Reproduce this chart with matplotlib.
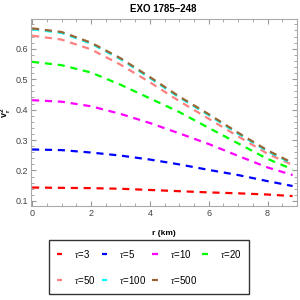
import numpy as np
import matplotlib.pyplot as plt
from matplotlib.ticker import MultipleLocator

plt.rcParams['font.family'] = ['Liberation Sans', 'DejaVu Sans']
plt.rcParams['mathtext.fontset'] = 'custom'
plt.rcParams['mathtext.it'] = 'Liberation Serif:italic'
plt.rcParams['mathtext.bf'] = 'Liberation Sans:bold'
plt.rcParams['mathtext.rm'] = 'Liberation Sans'

# radius grid (km) and v_r^2
r = [0, 1, 2, 3, 4, 5, 6, 7, 8, 8.85]
tau3 = [0.144, 0.143, 0.142, 0.140, 0.136, 0.132, 0.128, 0.125, 0.121, 0.116]
tau5 = [0.269, 0.267, 0.259, 0.249, 0.236, 0.220, 0.202, 0.185, 0.165, 0.149]
tau10 = [0.431, 0.426, 0.411, 0.386, 0.356, 0.322, 0.287, 0.248, 0.210, 0.185]
tau20 = [0.557, 0.546, 0.522, 0.482, 0.437, 0.392, 0.340, 0.289, 0.238, 0.204]
tau50 = [0.643, 0.630, 0.598, 0.548, 0.490, 0.428, 0.370, 0.312, 0.255, 0.218]
tau100 = [0.664, 0.652, 0.617, 0.566, 0.504, 0.440, 0.382, 0.321, 0.263, 0.222]
tau500 = [0.667, 0.655, 0.620, 0.569, 0.507, 0.443, 0.385, 0.324, 0.266, 0.225]

labels = ['3', '5', '10', '20', '50', '100', '500']
colors = ['#ff0000', '#0000ff', '#ff00ff', '#00ff00', '#ff8080', '#00ffff', '#996633']
series = [tau3, tau5, tau10, tau20, tau50, tau100, tau500]

fig = plt.figure(figsize=(3, 3), dpi=100)
ax = fig.add_axes([0.103, 0.313, 0.887, 0.624])

lines = []
for y, c, lab in zip(series, colors, labels):
    ln, = ax.plot(r, y, color=c, lw=1.6, dashes=(3.2, 2.6), label=r'$\mathit{\tau}$=' + lab)
    lines.append(ln)

ax.set_xlim(-0.04, 9.0)
ax.set_ylim(0.083, 0.698)
ax.xaxis.set_major_locator(MultipleLocator(2))
ax.xaxis.set_minor_locator(MultipleLocator(0.5))
ax.yaxis.set_major_locator(MultipleLocator(0.1))
ax.yaxis.set_minor_locator(MultipleLocator(0.02))
ax.tick_params(which='both', direction='in', top=True, right=True,
               color='#999999', labelsize=6.5, labelcolor='#444444', pad=2)
ax.tick_params(which='major', length=3.5)
ax.tick_params(which='minor', length=2)
for s in ax.spines.values():
    s.set_color('#aaaaaa')

fig.text(0.545, 0.985, 'EXO 1785\u2013248', fontsize=7, fontweight='bold',
         ha='center', va='top')
ax.set_xlabel('r (km)', fontsize=6, fontweight='bold', labelpad=9)
ax.set_ylabel(r'$\mathbf{v_r^{2}}$', fontsize=6.5, rotation=90)
ax.yaxis.set_label_coords(-0.068, 0.5)

# row-wise order for a 4-column legend
order = [0, 4, 1, 5, 2, 6, 3]
leg = fig.legend([lines[i] for i in order], [lines[i].get_label() for i in order],
                 loc='lower center', bbox_to_anchor=(0.497, 0.005), ncol=4,
                 fontsize=7, frameon=True, fancybox=False, handlelength=0.6,
                 columnspacing=0.6, handletextpad=1.2, borderpad=0.8,
                 labelspacing=1.45)
leg.get_frame().set_edgecolor('black')
leg.get_frame().set_linewidth(1.0)

fig.savefig('out.png', dpi=100)
